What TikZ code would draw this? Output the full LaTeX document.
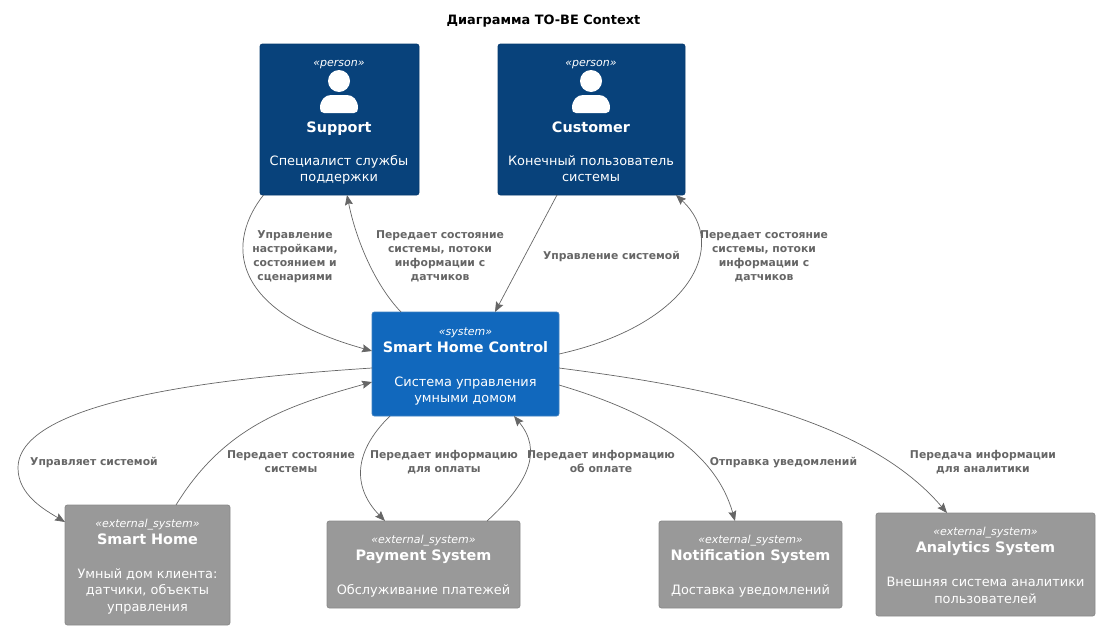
\documentclass[tikz,border=0pt]{standalone}
\usepackage{fontspec}
\setmainfont{DejaVu Sans}
\usetikzlibrary{arrows.meta,positioning}
\definecolor{azulPerson}{HTML}{08427B}
\definecolor{bordePerson}{HTML}{073B6F}
\definecolor{azulSystem}{HTML}{1168BD}
\definecolor{bordeSystem}{HTML}{3C7FC0}
\definecolor{grisExt}{HTML}{999999}
\definecolor{bordeExt}{HTML}{8A8A8A}
\definecolor{grisOscuro}{HTML}{666666}
\tikzset{
  box/.style={rectangle, rounded corners=2.5pt, line width=0.8pt,
              inner sep=0pt, outer sep=0pt},
  personbox/.style={box, fill=azulPerson, draw=bordePerson},
  systembox/.style={box, fill=azulSystem, draw=bordeSystem},
  extbox/.style={box, fill=grisExt, draw=bordeExt},
  stereo/.style={anchor=base, text=white, inner sep=0pt,
                 font=\fontsize{11}{12}\selectfont\itshape},
  boxname/.style={anchor=base, text=white, inner sep=0pt,
                  font=\fontsize{14.4}{16}\selectfont\bfseries},
  boxdesc/.style={anchor=base, text=white, inner sep=0pt, align=center,
                  font=\fontsize{12.9}{16.4}\selectfont},
  rel/.style={anchor=base, text=grisOscuro, inner sep=0pt, align=center,
              font=\fontsize{10.8}{14}\selectfont\bfseries},
  edge/.style={draw=grisOscuro, line width=0.7pt,
               -{Stealth[length=10pt,width=8pt,inset=1.5pt]}},
}
\begin{document}
\begin{tikzpicture}[x=1pt,y=-1pt]
    \useasboundingbox (0,0) rectangle (1099,629);

    \node (title) [anchor=base, inner sep=0pt,
        font=\fontsize{12.9}{15}\selectfont\bfseries] at (543.5,24)
        {Диаграмма TO-BE Context};

    % boxes
    \node (sup) [personbox, minimum width=159pt, minimum height=151pt] at (339.5,119.5) {};
    \node (cus) [personbox, minimum width=187pt, minimum height=151pt] at (591.5,119.5) {};
    \node (shc) [systembox, minimum width=187pt, minimum height=104pt] at (465.5,364) {};
    \node (sh) [extbox, minimum width=165pt, minimum height=120pt] at (147.5,565) {};
    \node (pay) [extbox, minimum width=193pt, minimum height=87pt] at (423.5,564.5) {};
    \node (notif) [extbox, minimum width=183pt, minimum height=87pt] at (750.5,564.5) {};
    \node (ana) [extbox, minimum width=219pt, minimum height=103pt] at (985.5,564.5) {};

    % person icons
    \foreach \x in {339,591} {
        \fill [white] (\x,81) circle (11pt);
        \fill [white] (\x-19,108) .. controls (\x-19,100) and (\x-14,95) .. (\x-8,95)
            -- (\x+8,95) .. controls (\x+14,95) and (\x+19,100) .. (\x+19,108)
            .. controls (\x+19,111) and (\x+18,113) .. (\x+15,113)
            -- (\x-15,113) .. controls (\x-18,113) and (\x-19,111) .. (\x-19,108) -- cycle;
    }

    % texts of the boxes
    \node (supS) [stereo] at (339,66) {«person»};
    \node (supN) [boxname] at (339,132) {Support};
    \node (supD) [boxdesc] at (339,181.5) {Специалист службы\\поддержки};

    \node (cusS) [stereo] at (591,66) {«person»};
    \node (cusN) [boxname] at (591,132) {Customer};
    \node (cusD) [boxdesc] at (591,181.5) {Конечный пользователь\\системы};

    \node (shcS) [stereo] at (465.5,335) {«system»};
    \node (shcN) [boxname] at (465.5,352.5) {Smart Home Control};
    \node (shcD) [boxdesc] at (465.5,402.5) {Система управления\\умными домом};

    \node (shS) [stereo] at (147.5,527) {«external\_system»};
    \node (shN) [boxname] at (147.5,544.5) {Smart Home};
    \node (shD) [boxdesc] at (147.5,611) {Умный дом клиента:\\датчики, объекты\\управления};

    \node (payS) [stereo] at (423.5,543) {«external\_system»};
    \node (payN) [boxname] at (423.5,560.5) {Payment System};
    \node (payD) [boxdesc] at (423.5,594.5) {Обслуживание платежей};

    \node (notifS) [stereo] at (750.5,543) {«external\_system»};
    \node (notifN) [boxname] at (750.5,560.5) {Notification System};
    \node (notifD) [boxdesc] at (750.5,594.5) {Доставка уведомлений};

    \node (anaS) [stereo] at (985.5,535) {«external\_system»};
    \node (anaN) [boxname] at (985.5,552.5) {Analytics System};
    \node (anaD) [boxdesc] at (985.5,603) {Внешняя система аналитики\\пользователей};

    % connectors
    \draw [edge] ([xshift=3.5pt]sup.south west) .. controls (228,240) and (225,310) .. ([yshift=13pt]shc.west);
    \draw [edge] ([xshift=29pt]shc.north west) .. controls (375,285) and (356,240) .. ([xshift=87pt]sup.south west);
    \draw [edge] ([xshift=59pt]cus.south west) -- ([xshift=123pt]shc.north west);
    \draw [edge] ([yshift=10pt]shc.east) .. controls (690,325) and (730,245) .. ([xshift=178pt]cus.south west);
    \draw [edge] ([yshift=-4pt]shc.west) .. controls (250,376) and (18,396) .. (18,468)
        .. controls (18,495) and (45,510) .. ([yshift=-17pt]sh.north west);
    \draw [edge] ([xshift=111pt]sh.north west) .. controls (225,425) and (290,405) .. ([yshift=-18pt]shc.west);
    \draw [edge] ([xshift=18pt]shc.south west) .. controls (350,455) and (355,490) .. ([xshift=58pt]pay.north west);
    \draw [edge] ([xshift=160pt]pay.north west) .. controls (530,482) and (542,450) .. ([xshift=142pt]shc.south west);
    \draw [edge] ([yshift=-21pt]shc.east) .. controls (650,412) and (715,450) .. ([xshift=76pt]notif.north west);
    \draw [edge] ([yshift=-4pt]shc.east) .. controls (690,385) and (862,413) .. ([xshift=71pt]ana.north west);

    % labels of the connectors
    \node (relA) [rel] at (295,280) {Управление\\настройками,\\состоянием и\\сценариями};
    \node (relB) [rel] at (440,280) {Передает состояние\\системы, потоки\\информации с\\датчиков};
    \node (relC) [rel] at (611.5,259) {Управление системой};
    \node (relD) [rel] at (764,280) {Передает состояние\\системы, потоки\\информации с\\датчиков};
    \node (relE) [rel] at (94,465) {Управляет системой};
    \node (relF) [rel] at (291,472) {Передает состояние\\системы};
    \node (relG) [rel] at (444,472) {Передает информацию\\для оплаты};
    \node (relH) [rel] at (601,472) {Передает информацию\\об оплате};
    \node (relI) [rel] at (783.5,465) {Отправка уведомлений};
    \node (relJ) [rel] at (983,472) {Передача информации\\для аналитики};
\end{tikzpicture}
\end{document}
